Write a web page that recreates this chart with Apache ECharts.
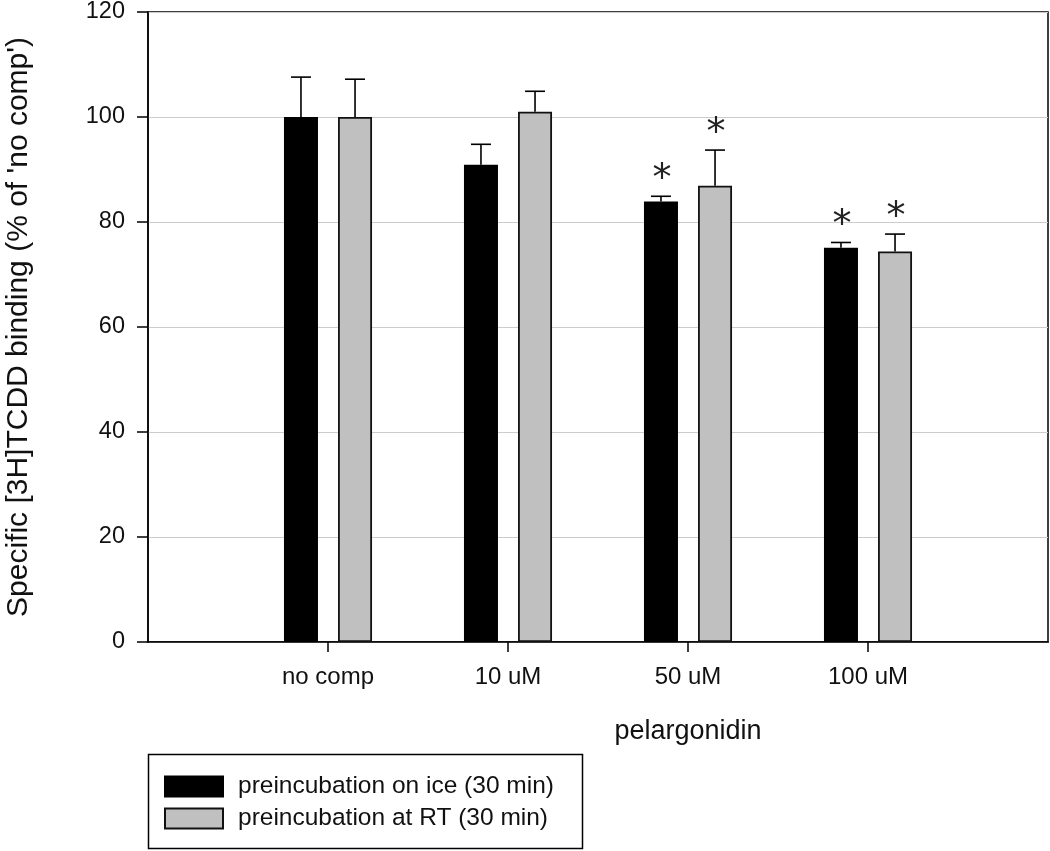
<!DOCTYPE html>
<html>
<head>
<meta charset="utf-8">
<script src="https://cdn.jsdelivr.net/npm/echarts@6/dist/echarts.min.js"></script>
<style>
  html, body { margin: 0; padding: 0; background: #fff; }
  #chart { width: 1050px; height: 851px; }
</style>
</head>
<body>
<div id="chart"></div>
<script>
// ---- data ----
const groups = ['no comp', '10 uM', '50 uM', '100 uM'];
const iceName = 'preincubation on ice (30 min)';
const rtName = 'preincubation at RT (30 min)';
const iceMean = [100, 90.9, 83.9, 75.1];
const iceErr = [7.6, 3.9, 1.0, 1.0];
const iceSig = [false, false, true, true];
const rtMean = [100, 101.0, 86.9, 74.4];
const rtErr = [7.2, 3.9, 6.8, 3.3];
const rtSig = [false, false, true, true];
const yTicks = [0, 20, 40, 60, 80, 100, 120];
const xTitle = 'pelargonidin';
const yTitle = "Specific [3H]TCDD binding (% of 'no comp')";

// ---- build ----
const FONT = "'Liberation Sans', Arial, sans-serif";
const categories = [''].concat(groups, ['']);
const pad = arr => ['-'].concat(arr, ['-']);
const BAR_W = 34, BAR_GAP = '59%';

function errSeries(means, errs, sigs, which) {
  const data = means.map((m, i) => [i + 1, m, m + errs[i], sigs[i] ? 1 : 0]);
  return {
    type: 'custom',
    silent: true,
    z: 5,
    data: data,
    encode: { x: 0, y: [1, 2] },
    renderItem: function (params, api) {
      const x = api.value(0);
      const base = api.coord([x, api.value(1)]);
      const top = api.coord([x, api.value(2)]);
      let off = which === 0 ? -27 : 27;
      try {
        const bl = api.barLayout({ count: 2, barWidth: BAR_W, barGap: BAR_GAP });
        if (bl && bl[which] && isFinite(bl[which].offsetCenter)) off = bl[which].offsetCenter;
      } catch (e) {}
      const cx = base[0] + off;
      const children = [
        { type: 'line', shape: { x1: cx, y1: base[1], x2: cx, y2: top[1] }, style: { stroke: '#000', lineWidth: 1.6 } },
        { type: 'line', shape: { x1: cx - 10, y1: top[1], x2: cx + 10, y2: top[1] }, style: { stroke: '#000', lineWidth: 1.6 } }
      ];
      if (api.value(3)) {
        children.push({
          type: 'text',
          style: {
            text: '*', x: cx + 1, y: top[1] - 25 + 9,
            align: 'center', verticalAlign: 'middle',
            font: "38px 'DejaVu Sans', sans-serif", fill: '#222'
          }
        });
      }
      return { type: 'group', children: children };
    }
  };
}

const chart = echarts.init(document.getElementById('chart'), null, { renderer: 'canvas' });
chart.setOption({
  animation: false,
  backgroundColor: '#fff',
  textStyle: { fontFamily: FONT },
  grid: {
    left: 148, right: 2, top: 12, bottom: 209,
    containLabel: false,
    outerBoundsMode: 'none',
    show: true, borderColor: '#000', borderWidth: 1.5, backgroundColor: 'transparent'
  },
  xAxis: {
    type: 'category',
    data: categories,
    boundaryGap: false,
    axisLine: { lineStyle: { color: '#000', width: 1.5 } },
    axisTick: {
      length: 10, lineStyle: { color: '#000', width: 1.5 },
      interval: function (idx) { return idx > 0 && idx < categories.length - 1; }
    },
    axisLabel: { margin: 23, fontSize: 24, color: '#111', fontFamily: FONT, interval: 0 },
    splitLine: { show: false },
    name: xTitle,
    nameLocation: 'middle',
    nameGap: 76,
    nameTextStyle: { fontSize: 27, color: '#111', fontFamily: FONT, padding: [0, 0, 0, 180] }
  },
  yAxis: {
    type: 'value',
    min: yTicks[0], max: yTicks[yTicks.length - 1], interval: yTicks[1] - yTicks[0],
    axisLine: { show: true, lineStyle: { color: '#000', width: 1.5 } },
    axisTick: { show: true, length: 11, lineStyle: { color: '#000', width: 1.5 } },
    axisLabel: { margin: 23, fontSize: 23.5, color: '#111', fontFamily: FONT },
    splitLine: { show: true, lineStyle: { color: '#cccccc', width: 1.2 } },
    name: yTitle,
    nameLocation: 'middle',
    nameRotate: 90,
    nameGap: 114,
    nameTextStyle: { fontSize: 30, color: '#111', fontFamily: FONT }
  },
  legend: {
    left: 164, top: 774,
    padding: 0,
    orient: 'vertical',
    icon: 'rect',
    itemWidth: 58, itemHeight: 20, itemGap: 7,
    data: [iceName, rtName],
    selectedMode: false,
    textStyle: { fontSize: 24.5, color: '#111', fontFamily: FONT, padding: [0, 0, 0, 10] }
  },
  graphic: [{
    type: 'rect',
    shape: { x: 148.5, y: 754.5, width: 434, height: 94 },
    style: { fill: 'none', stroke: '#000', lineWidth: 1.5 },
    silent: true, z: 1
  }],
  series: [
    {
      name: iceName, type: 'bar', data: pad(iceMean),
      barWidth: BAR_W, barGap: BAR_GAP,
      itemStyle: { color: '#000', borderColor: '#000', borderWidth: 1.5 },
      z: 3
    },
    {
      name: rtName, type: 'bar', data: pad(rtMean),
      barWidth: BAR_W, barGap: BAR_GAP,
      itemStyle: { color: '#c0c0c0', borderColor: '#111', borderWidth: 1.8 },
      z: 3
    },
    errSeries(iceMean, iceErr, iceSig, 0),
    errSeries(rtMean, rtErr, rtSig, 1)
  ]
});
</script>
</body>
</html>
